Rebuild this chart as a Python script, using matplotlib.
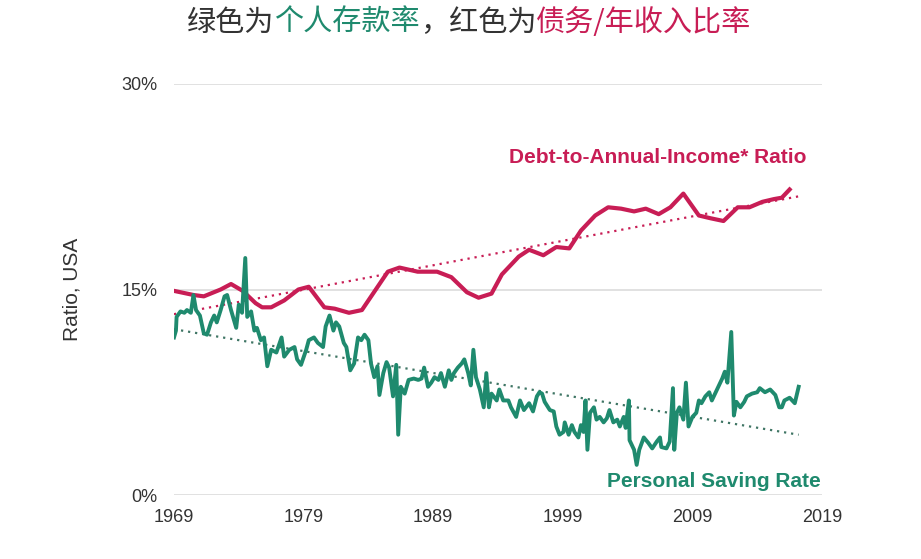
import matplotlib.pyplot as plt

# Debt-to-annual-income ratio (%)
debt_years = [1969.0, 1970.5, 1971.3, 1972.6, 1973.4, 1974.3, 1975.3, 1975.8, 1976.5, 1977.5,
              1978.6, 1979.4, 1980.6, 1981.4, 1982.5, 1983.5, 1984.5, 1985.5, 1986.4, 1987.8,
              1989.3, 1990.4, 1991.6, 1992.5, 1993.5, 1994.3, 1995.6, 1996.4, 1997.5, 1998.5,
              1999.5, 2000.4, 2001.5, 2002.5, 2003.5, 2004.5, 2005.4, 2006.4, 2007.3, 2008.3,
              2009.5, 2010.4, 2011.4, 2012.5, 2013.4, 2014.4, 2015.3, 2015.9, 2016.5]
debt_ratio = [14.9, 14.6, 14.5, 15.0, 15.4, 14.9, 14.0, 13.7, 13.7, 14.2,
              15.0, 15.2, 13.7, 13.6, 13.3, 13.5, 14.9, 16.3, 16.6, 16.3,
              16.3, 15.9, 14.8, 14.4, 14.7, 16.1, 17.4, 17.9, 17.5, 18.1,
              18.0, 19.3, 20.4, 21.0, 20.9, 20.7, 20.9, 20.5, 21.0, 22.0,
              20.4, 20.2, 20.0, 21.0, 21.0, 21.4, 21.6, 21.7, 22.3]

# Personal saving rate (%)
saving_years = [1969.0, 1969.15, 1969.2, 1969.5, 1969.8, 1970.0, 1970.3, 1970.5, 1970.7, 1971.0,
                1971.3, 1971.55, 1971.85, 1972.1, 1972.3, 1972.6, 1972.9, 1973.1, 1973.4, 1973.8,
                1974.0, 1974.25, 1974.5, 1974.65, 1974.95, 1975.2, 1975.4, 1975.7, 1975.95, 1976.2,
                1976.5, 1976.9, 1977.3, 1977.5, 1977.9, 1978.3, 1978.5, 1978.8, 1979.2, 1979.4,
                1979.8, 1980.1, 1980.5, 1980.7, 1981.0, 1981.3, 1981.5, 1981.75, 1982.1, 1982.3,
                1982.6, 1982.9, 1983.2, 1983.45, 1983.7, 1984.0, 1984.2, 1984.45, 1984.7, 1984.85,
                1985.15, 1985.4, 1985.6, 1985.9, 1986.15, 1986.3, 1986.5, 1986.8, 1987.1, 1987.5,
                1987.85, 1988.1, 1988.3, 1988.6, 1988.85, 1989.1, 1989.4, 1989.6, 1989.9, 1990.2,
                1990.4, 1990.6, 1990.9, 1991.2, 1991.4, 1991.7, 1991.9, 1992.1, 1992.3, 1992.6,
                1992.9, 1993.1, 1993.3, 1993.5, 1993.9, 1994.1, 1994.4, 1994.8, 1995.0, 1995.4,
                1995.7, 1996.0, 1996.4, 1996.7, 1997.0, 1997.2, 1997.4, 1997.6, 1998.0, 1998.3,
                1998.5, 1998.75, 1999.05, 1999.15, 1999.45, 1999.7, 1999.9, 2000.2, 2000.4, 2000.6,
                2000.75, 2000.9, 2001.1, 2001.4, 2001.6, 2001.85, 2002.15, 2002.4, 2002.6, 2002.9,
                2003.2, 2003.4, 2003.7, 2003.85, 2004.1, 2004.15, 2004.5, 2004.7, 2004.9, 2005.25,
                2005.6, 2005.9, 2006.25, 2006.5, 2006.6, 2007.0, 2007.25, 2007.5, 2007.6, 2007.8,
                2008.0, 2008.3, 2008.5, 2008.7, 2009.0, 2009.3, 2009.5, 2009.7, 2010.0, 2010.3,
                2010.5, 2010.7, 2011.0, 2011.3, 2011.5, 2011.7, 2012.0, 2012.2, 2012.4, 2012.7,
                2013.0, 2013.2, 2013.6, 2014.0, 2014.2, 2014.6, 2015.0, 2015.4, 2015.7, 2015.9,
                2016.1, 2016.5, 2016.9, 2017.2]
saving_rate = [11.5, 12.0, 13.0, 13.4, 13.3, 13.5, 13.3, 14.6, 13.5, 13.1,
               11.8, 11.7, 12.6, 13.1, 12.6, 13.5, 14.5, 14.6, 13.5, 12.2,
               13.9, 13.3, 17.3, 13.0, 13.4, 12.0, 12.2, 11.3, 11.5, 9.4,
               10.6, 10.4, 11.5, 10.1, 10.6, 10.8, 9.9, 9.5, 10.6, 11.3,
               11.5, 11.1, 10.8, 12.3, 13.1, 12.0, 12.6, 12.3, 11.1, 10.8,
               9.1, 9.6, 11.5, 11.3, 11.7, 11.3, 9.6, 8.6, 9.4, 7.3,
               8.9, 9.7, 9.3, 7.2, 9.5, 4.4, 7.9, 7.4, 8.4, 8.5,
               8.4, 8.5, 9.3, 7.9, 8.2, 8.6, 8.4, 8.9, 7.9, 9.1,
               8.4, 8.9, 9.3, 9.6, 9.9, 8.9, 8.0, 10.6, 8.6, 7.7,
               6.4, 8.9, 6.4, 7.4, 6.9, 7.7, 6.9, 6.9, 6.4, 5.7,
               6.9, 6.2, 6.7, 6.1, 7.2, 7.5, 7.4, 6.8, 6.2, 6.1,
               5.0, 4.4, 4.6, 5.3, 4.4, 5.1, 4.6, 4.2, 5.1, 4.6,
               6.9, 3.3, 6.0, 6.4, 5.5, 5.7, 5.3, 5.6, 6.2, 5.3,
               5.5, 5.0, 5.7, 4.9, 6.9, 4.0, 3.3, 2.2, 3.3, 4.2,
               3.8, 3.4, 3.9, 4.2, 3.5, 3.4, 3.9, 7.8, 3.3, 6.0,
               6.4, 5.5, 8.2, 5.0, 5.7, 6.0, 6.9, 6.7, 7.2, 7.5,
               6.9, 7.3, 7.9, 8.5, 9.0, 8.2, 11.9, 5.8, 6.8, 6.4,
               6.8, 7.2, 7.4, 7.5, 7.8, 7.5, 7.7, 7.3, 6.4, 6.4,
               6.9, 7.1, 6.7, 7.9]

# trend line end points (%)
trend_years = [1969.0, 2017.2]
debt_trend = [13.2, 21.8]
saving_trend = [12.1, 4.4]

year_ticks = [1969, 1979, 1989, 1999, 2009, 2019]
pct_ticks = [0, 15, 30]

red = "#C81D55"
green = "#1F8A6E"
green_dot = "#3F7564"
text_dark = "#333333"

plt.rcParams['font.family'] = ['Liberation Sans', 'DejaVu Sans']

fig = plt.figure(figsize=(9.21, 5.59), dpi=100)
ax = fig.add_axes([174/921, 64/559, 648/921, 411/559])

for p in pct_ticks:
    ax.axhline(p, color="#dedede", lw=1.3, zorder=0)

ax.plot(trend_years, debt_trend, color=red, lw=1.6, ls=(0, (1, 2.2)), zorder=2)
ax.plot(trend_years, saving_trend, color=green_dot, lw=1.6, ls=(0, (1, 2.2)), zorder=2)
ax.plot(debt_years, debt_ratio, color=red, lw=3.0, solid_joinstyle='round', zorder=3)
ax.plot(saving_years, saving_rate, color=green, lw=2.8, solid_joinstyle='round', zorder=4)

ax.set_xlim(1969, 2019)
ax.set_ylim(0, 30)
ax.set_xticks(year_ticks)
ax.set_xticklabels([str(y) for y in year_ticks])
ax.set_yticks(pct_ticks)
ax.set_yticklabels([f"{p}%" for p in pct_ticks])
ax.tick_params(axis='both', length=0, labelsize=13, labelcolor=text_dark)
ax.tick_params(axis='x', pad=10)
ax.tick_params(axis='y', pad=12)
for s in ax.spines.values():
    s.set_visible(False)

ax.set_ylabel("Ratio, USA", fontsize=15, color=text_dark)
ax.yaxis.set_label_coords(-0.142, 0.5)

ax.text(2017.8, 24.6, "Debt-to-Annual-Income* Ratio", color=red, fontsize=15,
        fontweight='bold', ha='right', va='center')
ax.text(2018.9, 0.95, "Personal Saving Rate", color=green, fontsize=15,
        fontweight='bold', ha='right', va='center')

# multi-colour title
title_parts = [("绿色为", text_dark), ("个人存款率", green), ("，红色为", text_dark),
               ("债务/年收入比率", red)]
cjk = ['Noto Sans CJK SC', 'DejaVu Sans']
texts = [fig.text(0, 1 - 23/559, s, color=c, fontsize=21, family=cjk, va='center')
         for s, c in title_parts]
fig.canvas.draw()
r = fig.canvas.get_renderer()
widths = [t.get_window_extent(r).width for t in texts]
x = 469 - sum(widths) / 2
for t, w in zip(texts, widths):
    t.set_x(x / 921)
    x += w

fig.savefig("out.png", dpi=100)
